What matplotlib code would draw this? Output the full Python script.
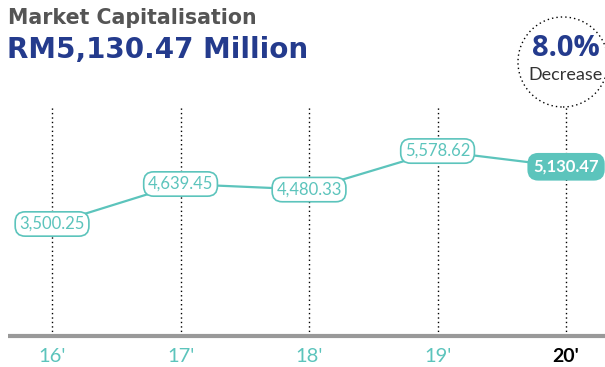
import matplotlib
matplotlib.use("Agg")
import matplotlib.pyplot as plt
from matplotlib.patches import Ellipse

years = ["16'", "17'", "18'", "19'", "20'"]
values = [3500.25, 4639.45, 4480.33, 5578.62, 5130.47]
labels = ["3,500.25", "4,639.45", "4,480.33", "5,578.62", "5,130.47"]

TEAL = "#5cc4bc"
NAVY = "#243b8d"
GRAY = "#555555"

fig = plt.figure(figsize=(6.05, 3.67), dpi=100)
ax = fig.add_axes([0, 0, 1, 1])
ax.set_xlim(-0.405, 4.303)
ax.set_ylim(-574, 9882)
ax.axis("off")

x = list(range(len(years)))
top_v = 9882 - 107 / 367 * (9882 + 574)
base_v = 9882 - 336 / 367 * (9882 + 574)

for xi in x:
    ax.plot([xi, xi], [base_v, top_v], color="black", lw=1.0, ls=(0, (1, 2.2)), zorder=1)

ax.plot(x, values, color=TEAL, lw=1.6, zorder=2)

for i, (xi, v, lab) in enumerate(zip(x, values, labels)):
    if i == len(x) - 1:
        ax.text(xi, v, lab, ha="center", va="center", fontsize=12, color="white",
                fontweight="bold", family="Lato", zorder=4,
                bbox=dict(boxstyle="round,pad=0.3,rounding_size=0.6", fc=TEAL, ec=TEAL, lw=1.2))
    else:
        ax.text(xi, v, lab, ha="center", va="center", fontsize=12, color=TEAL,
                fontweight="normal", family="Lato", zorder=4,
                bbox=dict(boxstyle="round,pad=0.25,rounding_size=0.6", fc="white", ec=TEAL, lw=1.2))

# baseline
ax.plot([-0.405 + 8 / 128.5, 4.303], [base_v, base_v], color="#999999", lw=3, zorder=3,
        solid_capstyle="butt")

ylab = 9882 - 356 / 367 * (9882 + 574)
for i, (xi, y) in enumerate(zip(x, years)):
    if i == len(x) - 1:
        ax.text(xi, ylab, y, ha="center", va="center", fontsize=14, color="black",
                fontweight="bold", family="Lato")
    else:
        ax.text(xi, ylab, y, ha="center", va="center", fontsize=14.5, color=TEAL,
                fontweight="normal", family="Lato")

# titles
fig.text(8 / 605, 1 - 18 / 367, "Market Capitalisation", ha="left", va="center",
         fontsize=14.8, color=GRAY, fontweight="bold", family="DejaVu Sans")
fig.text(7 / 605, 1 - 50 / 367, "RM5,130.47 Million", ha="left", va="center",
         fontsize=20, color=NAVY, fontweight="bold", family="DejaVu Sans")

# circle
e = Ellipse((563 / 605, 1 - 62 / 367), 90 / 605, 90 / 367, transform=fig.transFigure,
            fill=False, ec="black", lw=1.0, ls=(0, (1, 2.2)))
fig.add_artist(e)
fig.text(566 / 605, 1 - 49 / 367, "8.0%", ha="center", va="center", fontsize=21,
         color=NAVY, fontweight="bold", family="Open Sans")
fig.text(566 / 605, 1 - 75 / 367, "Decrease", ha="center", va="center", fontsize=13,
         color="#333333", family="Lato")

fig.savefig("out.png", dpi=100)
